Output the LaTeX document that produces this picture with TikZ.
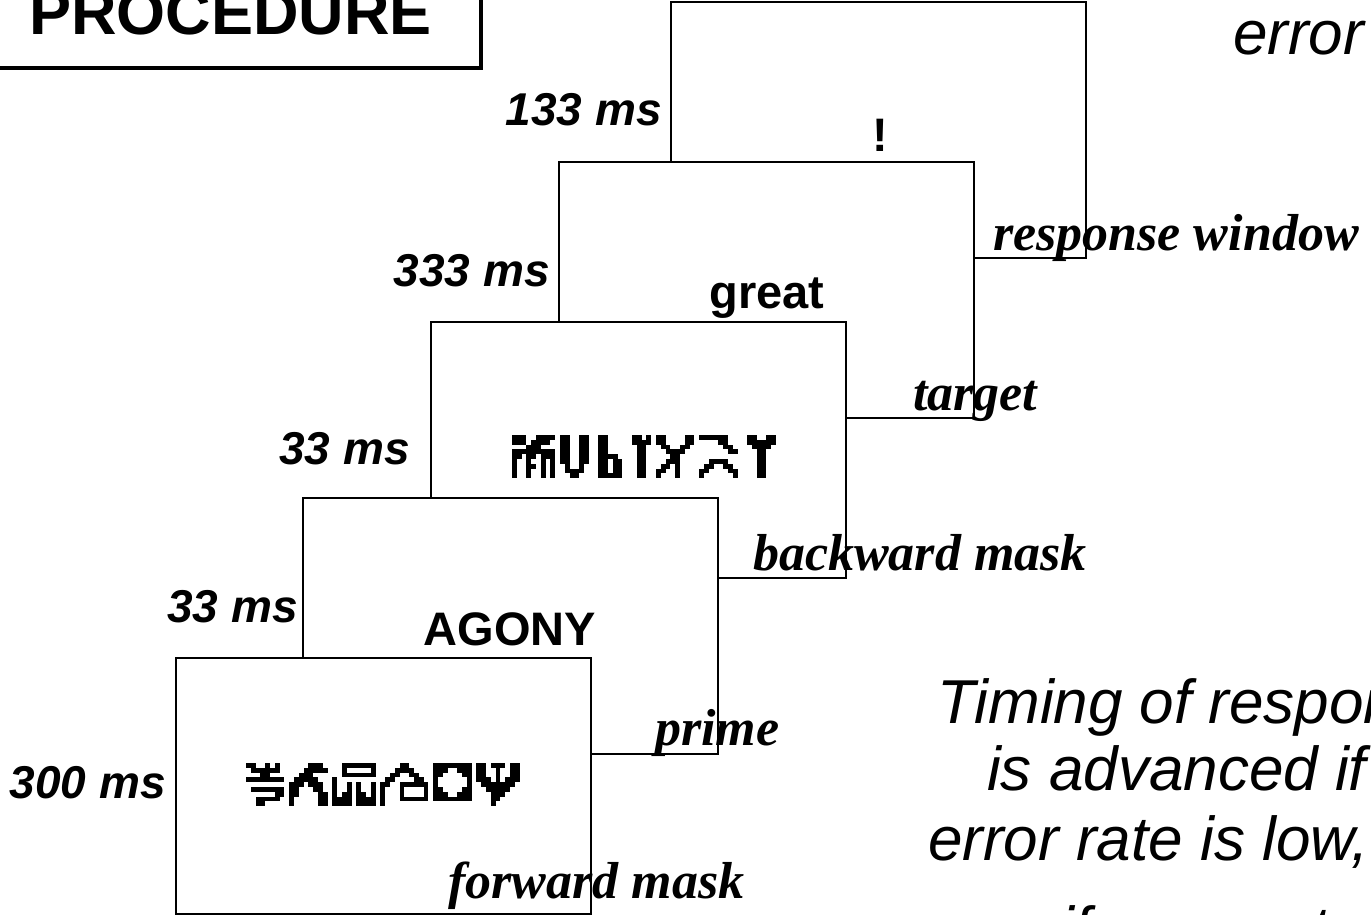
\documentclass[tikz,border=0pt]{standalone}
\usepackage{fontspec}
\newfontfamily\lsans{Liberation Sans}
\newfontfamily\lserif{Liberation Serif}

% pixel-glyph helper: rows of X (ink) and - (blank)
\newcount\pxc
\def\pxu{4.8}
\def\pxcell#1{\if X#1\fill ({\pxX+\the\pxc*\pxu},{\pxY+\pxR*\pxu}) rectangle ++(\pxu,\pxu);\fi\global\advance\pxc by 1\relax}
\def\pxscan#1{\ifx\relax#1\else\pxcell{#1}\expandafter\pxscan\fi}
\newcommand\pxglyph[3]{\def\pxX{#1}\def\pxY{#2}%
  \foreach \pxrow [count=\pxR from 0] in {#3}{\global\pxc=0\relax\expandafter\pxscan\pxrow\relax}}

\tikzset{
  screen/.style={draw, fill=white, line width=2pt, minimum width=415pt,
    minimum height=256pt, inner sep=0pt, outer sep=0pt},
  procbox/.style={draw, line width=3.5pt, minimum width=501pt, minimum height=110pt,
    inner sep=0pt, font=\lsans\bfseries\fontsize{63}{70}\selectfont},
  timelab/.style={font=\lsans\bfseries\itshape\fontsize{46}{50}\selectfont,
    anchor=base east, inner sep=0pt},
  word/.style={font=\lsans\bfseries\fontsize{47}{52}\selectfont, anchor=base, inner sep=0pt},
  phase/.style={font=\lserif\bfseries\itshape\fontsize{52}{56}\selectfont,
    anchor=base west, inner sep=0pt},
  note/.style={font=\lsans\itshape\fontsize{62}{68}\selectfont, anchor=base west, inner sep=0pt}
}

\begin{document}
\begin{tikzpicture}[x=1pt,y=-1pt]
\useasboundingbox (0,0) rectangle (1371,915);

% title box
\node[procbox] (proc) at (230.5,13) {PROCEDURE};

% stacked screens, back to front
\node[screen] (s5) at (878.5,130) {};
\node[screen] (s4) at (766.5,290) {};
\node[screen] (s3) at (638.5,450) {};
\node[screen] (s2) at (510.5,626) {};
\node[screen] (s1) at (383.5,786) {};

% screen contents
\node[word] (bang) at (880,152) {!};
\node[word] (great) at (767,308) {great};
\node[word] (agony) at (510,645) {AGONY};

% backward mask (pseudo-letters)
\pxglyph{512}{435}{XXX--XXXX,XXX-XXXX-,---XXX---,XXXXXXXXX,XX-XX-XXX,X--X--X-X,X--XX-X-X,X--X--X-X,X--X--X-X}
\pxglyph{560}{435}{XX--XX,XX--XX,XX--XX,XX--XX,XX--XX,XX--XX,-X--X-,-XXXX-,--XX--}
\pxglyph{598.4}{435}{XX---,XX---,XX---,XX---,XXXX-,XX-XX,XX-XX,XX-XX,XXXXX}
\pxglyph{632}{435}{XX-X,XXXX,-XX-,-XX-,-XX-,-XX-,-XX-,-XX-,-XX-}
\pxglyph{656}{435}{XX----XX,XX----XX,-XX--XX-,--XXXX--,---XX---,--XXX---,-XX-X---,XX--X---,X---X---}
\pxglyph{699.2}{435}{XXXXXX--,----XX--,-----XX-,------XX,--------,--XXXX--,-XX--XX-,XX----XX,X------X}
\pxglyph{747.2}{435}{XX--XX,XXXXXX,-XXXX-,--XX--,--XX--,--XX--,--XX--,--XX--,--XX--}

% forward mask (pseudo-letters)
\pxglyph{246}{763}{XX--X-X-,-XXXXXX-,---XX---,XXXXXXXX,--------,-XXXXXXX,------XX,--XXXXX-,--XX----}
\pxglyph{289.2}{763}{----XXX-,---XXXXX,--XXX---,-XXXXX--,XXX-XXX-,XX---XX-,XX----XX,X-----XX,X-----XX}
\pxglyph{332.4}{763}{--XXXXXXX,--X-----X,--XXXXXXX,X--------,X--X-X--X,X--X-X--X,X-XX-XX-X,XXXX-XXXX,XXXX-XXXX}
\pxglyph{380.4}{763}{----XX----,---XXXX---,--XX--XX--,-XX----XX-,XX--XXXXXX,X---X----X,X---X----X,X---XXXXXX,X---------}
\pxglyph{433.2}{763}{XXXXXXXX,XXX--XXX,XX----XX,X------X,X------X,XX----XX,XXX--XXX,XXXXXXXX,--------}
\pxglyph{476.4}{763}{XX-XXX-XX-,XX--X--XX-,XX--X--XX-,XXX-X-XXX-,-XXXXXXX--,--XXXXX---,---XXX----,---XX-----,---X------}

% durations
\node[timelab] (t1) at (166,798) {300 ms};
\node[timelab] (t2) at (298,622) {33 ms};
\node[timelab] (t3) at (410,464) {33 ms};
\node[timelab] (t4) at (550,286) {333 ms};
\node[timelab] (t5) at (662,126) {133 ms};

% phase names
\node[phase] (p5) at (993,250) {response window};
\node[phase] (p4) at (913,410) {target};
\node[phase] (p3) at (753,570) {backward mask};
\node[phase] (p2) at (655,745) {prime};
\node[phase] (p1) at (448,898) {forward mask};

% notes
\node[note] (n0) at (1233,55) {error};
\node[note] (n1) at (937,723) {Timing of response};
\node[note] (n2) at (987,790) {is advanced if};
\node[note] (n3) at (928,860) {error rate is low,};
\node[note] (n4) at (1060,950) {if error rate};
\end{tikzpicture}
\end{document}
